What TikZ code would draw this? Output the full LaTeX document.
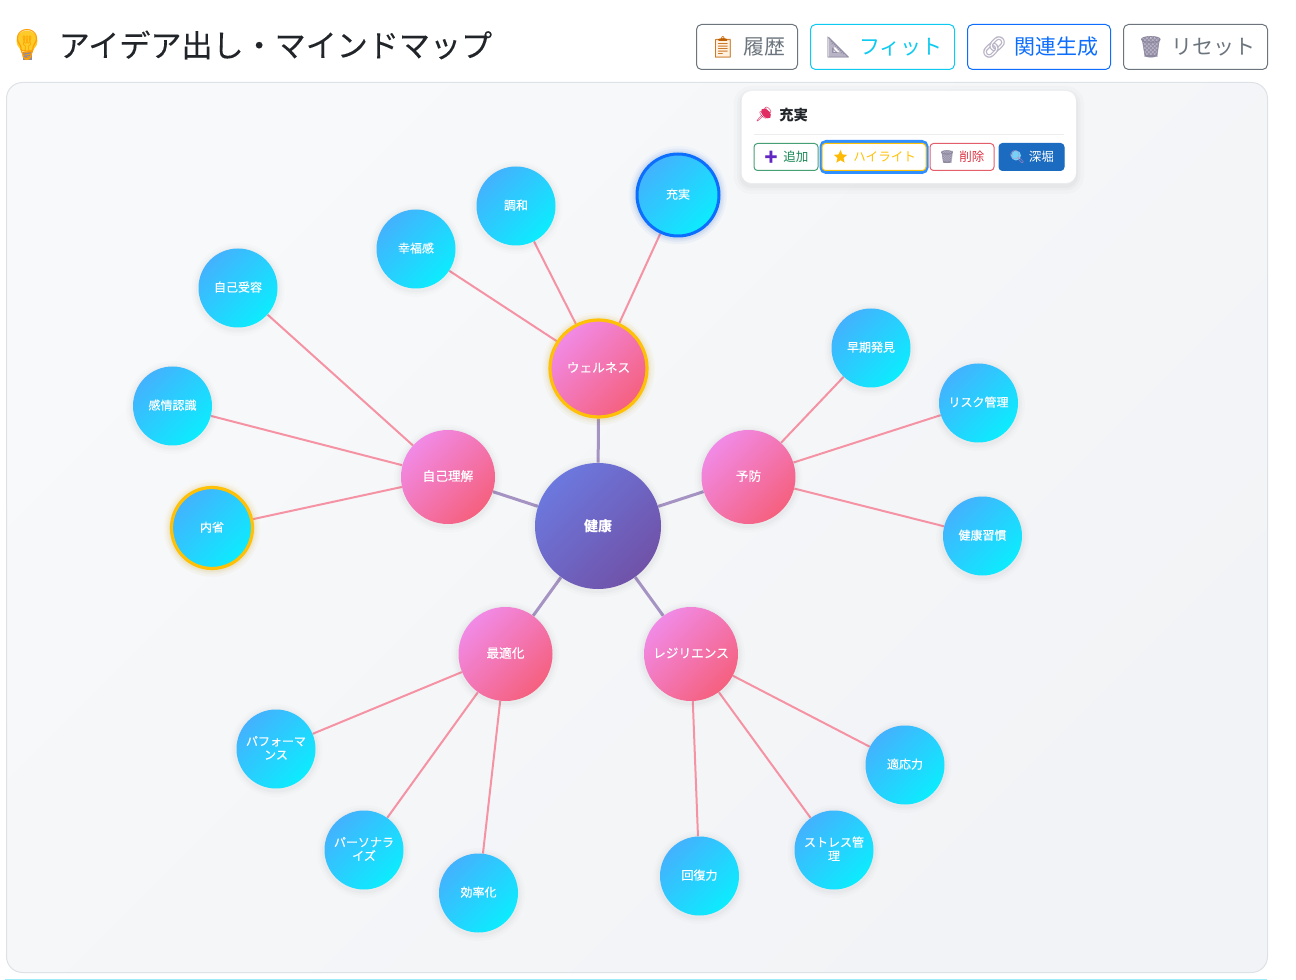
\documentclass[tikz,border=0pt]{standalone}
\usepackage{fontspec}
\setmainfont{Noto Sans CJK JP}
\newfontfamily\emo{Noto Emoji}
\newfontfamily\emob[FakeBold=0.6]{Noto Emoji}
\newfontfamily\med[FakeBold=0.35]{Noto Sans CJK JP}
\newfontfamily\semi[FakeBold=0.15]{Noto Sans CJK JP}
\usetikzlibrary{backgrounds,shapes.geometric}
\definecolor{cA}{HTML}{6C78DE}\definecolor{cB}{HTML}{7052A8}
\definecolor{bA}{HTML}{F18AE6}\definecolor{bB}{HTML}{F5607E}
\definecolor{lA}{HTML}{43B2FE}\definecolor{lB}{HTML}{0CECFE}
\definecolor{edgeC}{HTML}{A593C3}\definecolor{edgeL}{HTML}{F593A5}
\definecolor{gold}{HTML}{FFC107}\definecolor{focus}{HTML}{0D6EFD}
\definecolor{ringC}{HTML}{2F8FFF}
\definecolor{gray6}{HTML}{6C757D}\definecolor{cyan5}{HTML}{0DCAF0}
\definecolor{green5}{HTML}{198754}\definecolor{red5}{HTML}{DC3545}
\definecolor{deep}{HTML}{1B6CC0}\definecolor{ink}{HTML}{212529}
\definecolor{icoG}{HTML}{B9B3C6}\definecolor{icoD}{HTML}{8F89A0}
\definecolor{panelA}{HTML}{F8F9FA}\definecolor{panelB}{HTML}{F1F3F6}\definecolor{panelL}{HTML}{DEE2E6}
\newlength{\px}\setlength{\px}{0.75pt}
\newcommand{\ico}[2]{{\emo\color{#1}#2}}
\tikzset{
  softshadow/.style={
    preaction={draw=#1,opacity=.012,line width=14\px,transform canvas={yshift=-1.5\px}},
    preaction={draw=#1,opacity=.016,line width=9\px,transform canvas={yshift=-1.5\px}},
    preaction={draw=#1,opacity=.02,line width=5\px,transform canvas={yshift=-1.5\px}}},
  glow/.style={
    preaction={draw=#1,opacity=.03,line width=16\px},
    preaction={draw=#1,opacity=.045,line width=11\px},
    preaction={draw=#1,opacity=.06,line width=7\px}},
  bubble/.style={circle,inner sep=0pt,text=white,align=center},
  center/.style={bubble,minimum size=126\px,left color=cA,right color=cB,shading angle=45,softshadow=black,font=\fontsize{10.5pt}{12pt}\selectfont\bfseries},
  branch/.style={bubble,minimum size=94\px,left color=bA,right color=bB,shading angle=45,softshadow=black,text height=8.2pt,text depth=2.5pt,font=\fontsize{9.5pt}{12pt}\med},
  leaf/.style={bubble,minimum size=79\px,left color=lA,right color=lB,shading angle=45,softshadow=black,text height=8pt,text depth=2.5pt,font=\fontsize{9pt}{10.2pt}\med},
  twolines/.style={text height=18pt,text depth=2.5pt},
  goldring/.style={draw=gold,line width=3.2\px,minimum size=#1,glow=gold},
  bluering/.style={draw=focus,line width=3\px,minimum size=#1,glow=focus},
  trunk/.style={draw=edgeC,line width=3\px},
  twig/.style={draw=edgeL,line width=2\px},
  toolbtn/.style={draw=#1,text=#1,rectangle,rounded corners=5\px,line width=1\px,minimum height=45\px,inner sep=0pt,fill=white,font=\fontsize{15.75pt}{18pt}\selectfont},
  popbtn/.style={draw=#1,text=#1,rectangle,rounded corners=3.5\px,line width=1\px,minimum height=27\px,inner sep=0pt,fill=white,font=\fontsize{9.4pt}{11pt}\selectfont},
  bigicon/.style={inner sep=0pt,font=\fontsize{15.75pt}{18pt}\selectfont},
  smallicon/.style={inner sep=0pt,font=\fontsize{9.4pt}{11pt}\selectfont},
}
\pgfdeclarelayer{panel}\pgfdeclarelayer{links}
\pgfsetlayers{panel,links,main}
\begin{document}
\begin{tikzpicture}[x=0.75pt,y=-0.75pt]
\useasboundingbox (0,0) rectangle (1296,980);

% panel
\begin{pgfonlayer}{panel}
\fill[white] (0,0) rectangle (1296,980);
\path[left color=panelA,right color=panelB,shading angle=45,draw=panelL,line width=1\px,rounded corners=16\px] (6.5,82.5) rectangle (1267.5,972.5);
\draw[cyan5!40,line width=1.2\px] (5,979.4) -- (1267,979.4);
\end{pgfonlayer}

% title
\fill[yellow!55!orange!85!white] (27,41) circle (10.5);
\fill[icoD] (22.5,52) rectangle (31.5,60);
\node[inner sep=0pt,font=\fontsize{23pt}{26pt}\selectfont] (bulb) at (27,45) {\ico{orange!75!yellow}{💡}};
\node[inner sep=0pt,anchor=west,text=ink,font=\fontsize{23.3pt}{28pt}\semi] (title) at (58.5,45) {アイデア出し・マインドマップ};

% tool buttons
\node[toolbtn=gray6,minimum width=101\px] (hist) at (747,47) {\phantom{\emo 📋}\hspace{6.5pt}履歴};
\node[toolbtn=cyan5,minimum width=144\px] (fit) at (882.5,47) {\phantom{\emo 📐}\hspace{8pt}フィット};
\node[toolbtn=focus,minimum width=143\px] (rel) at (1039,47) {\phantom{\emo 🔗}\hspace{6pt}関連生成};
\node[toolbtn=gray6,minimum width=144\px] (reset) at (1195.5,47) {\phantom{\emo 🗑}\hspace{6.5pt}リセット};

\fill[orange!12!white] (715.5,38) rectangle (731,57);
\node[bigicon] (iconclip) at (723,47) {\ico{orange!75!black}{📋}};
\fill[icoG,even odd rule] (829,37) -- (849,57) -- (829,57) -- cycle (834,46) -- (834,52) -- (840,52) -- cycle;
\node[bigicon] (iconruler) at (838.5,47) {\ico{icoD}{📐}};
\node[bigicon] (iconlink) at (994,47) {{\emob\color{icoG}🔗}};
\fill[icoG] (1142.5,38) -- (1159.5,38) -- (1157.5,57) -- (1144.5,57) -- cycle;
\node[bigicon] (iconwaste) at (1151,47) {\ico{icoD}{🗑}};

% nodes
\node[center] (c) at (598,526) {健康};
\node[branch,goldring=97\px] (well) at (598.5,368.5) {ウェルネス};
\node[branch] (self) at (448,477) {自己理解};
\node[branch] (prev) at (748.5,477) {予防};
\node[branch] (opt) at (505.5,654) {最適化};
\node[branch] (res) at (691,654) {レジリエンス};

\node[leaf,bluering=82\px] (juu) at (678,195) {充実};
\node[leaf] (chowa) at (516,206) {調和};
\node[leaf] (kofuku) at (416,249) {幸福感};
\node[leaf] (juyo) at (238,288) {自己受容};
\node[leaf] (kanjo) at (172.5,406) {感情認識};
\node[leaf,goldring=81\px] (naisei) at (212,528) {内省};
\node[leaf] (soki) at (871,348) {早期発見};
\node[leaf] (risk) at (978.5,403) {リスク管理};
\node[leaf] (shukan) at (982.5,536) {健康習慣};
\node[leaf] (tekio) at (905,765) {適応力};
\node[leaf,twolines] (stress) at (834,850) {ストレス管\\理};
\node[leaf] (kaifuku) at (699.5,876) {回復力};
\node[leaf] (koritsu) at (478.5,893) {効率化};
\node[leaf,twolines] (person) at (364,850) {パーソナラ\\イズ};
\node[leaf,twolines] (perf) at (276,749) {パフォーマ\\ンス};

% connectors
\begin{pgfonlayer}{links}
\foreach \b in {well,self,prev,opt,res} \draw[trunk] (c) -- (\b);
\foreach \l in {juu,chowa,kofuku} \draw[twig] (well) -- (\l);
\foreach \l in {juyo,kanjo,naisei} \draw[twig] (self) -- (\l);
\foreach \l in {soki,risk,shukan} \draw[twig] (prev) -- (\l);
\foreach \l in {tekio,stress,kaifuku} \draw[twig] (res) -- (\l);
\foreach \l in {koritsu,person,perf} \draw[twig] (opt) -- (\l);
\end{pgfonlayer}

% popup
\node[rectangle,fill=white,rounded corners=10\px,minimum width=334.5\px,minimum height=92\px,inner sep=0pt,
  preaction={draw=black,opacity=.015,line width=16\px,transform canvas={yshift=-3\px}},
  preaction={draw=black,opacity=.02,line width=9\px,transform canvas={yshift=-3\px}},
  preaction={draw=black,opacity=.025,line width=4\px,transform canvas={yshift=-3\px}}] (pop) at (908.75,137) {};
\fill[red5!85!magenta,rotate around={45:(766,113.5)}] (766,113.5) ellipse (3.6 and 6);
\node[inner sep=0pt,font=\fontsize{10.8pt}{13pt}\selectfont] (iconpin) at (764,115) {\ico{red5!85!magenta}{📌}};
\node[inner sep=0pt,anchor=west,text=ink,font=\fontsize{10.8pt}{13pt}\selectfont\bfseries] (poptitle) at (779,115) {充実};
\coordinate (divL) at (754,134.5); \coordinate (divR) at (1064,134.5);
\draw[black!7,line width=1\px] (divL) -- (divR);
\node[popbtn=green5!80!white,text=green5,minimum width=64\px] (add) at (786,157) {\phantom{\emo ➕}\hspace{3pt}追加};
\node[smallicon] (iconplus) at (771,157) {\ico{violet!55!blue!85!white}{➕}};
\node[rectangle,draw=ringC,rounded corners=5\px,line width=3\px,minimum width=106\px,minimum height=31\px,inner sep=0pt] (focusring) at (874,157) {};
\node[popbtn=gold,minimum width=104\px] (hl) at (874,157) {\phantom{\emo ⭐}\hspace{4pt}ハイライト};
\node[star,star points=5,star point ratio=2.2,fill=gold!90!orange,minimum size=14\px,inner sep=0pt] (iconstar) at (840.5,157) {};
\node[popbtn=red5!80!white,text=red5,minimum width=64\px] (del) at (962,157) {\phantom{\emo 🗑}\hspace{3pt}削除};
\fill[icoG] (941.5,151) -- (953,151) -- (951.5,163) -- (943,163) -- cycle;
\node[smallicon] (iconwastesm) at (947,157) {\ico{icoD}{🗑}};
\node[popbtn=deep,fill=deep,text=white,minimum width=65\px] (dig) at (1031.5,157) {\phantom{\emo 🔍}\hspace{3pt}深堀};
\fill[cyan!55!white] (1016,155.5) circle (5);
\node[smallicon] (iconlens) at (1017,157) {\ico{violet!45!white}{🔍}};
\end{tikzpicture}
\end{document}
